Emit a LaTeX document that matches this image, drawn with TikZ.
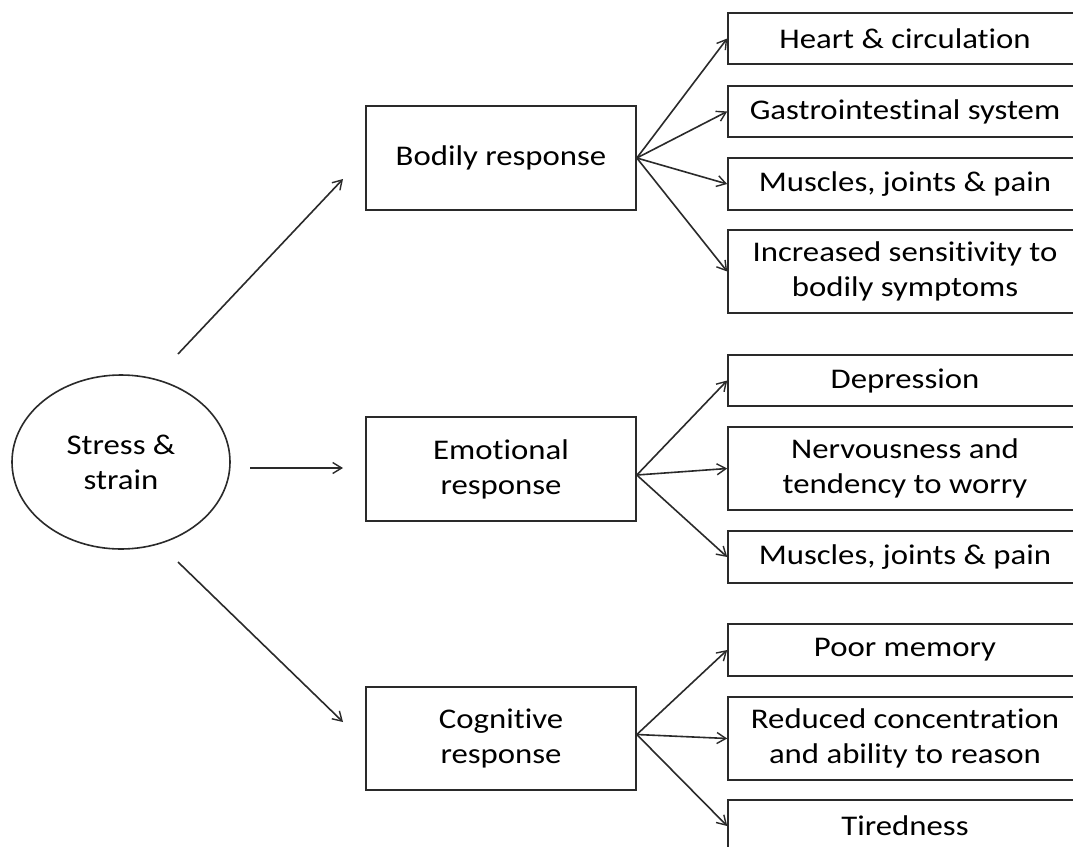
\documentclass[tikz,border=0pt]{standalone}
\usepackage{fontspec}
\setmainfont{Carlito}[FakeStretch=1.15, Ligatures={NoCommon}]
\usetikzlibrary{arrows.meta,shapes.geometric}
\definecolor{edge}{HTML}{2A2A2A}
\tikzset{
  base/.style={draw=edge, line width=1.6pt, text=black, inner sep=0pt, align=center,
    font=\fontsize{28.5}{35}\selectfont},
  respbox/.style={base, rectangle, minimum width=270pt},
  itembox/.style={base, rectangle, minimum width=354pt},
  link/.style={draw=edge, line width=1.6pt, -{Straight Barb[length=9pt,width=11pt,line width=1.4pt]}}
}
\begin{document}
\begin{tikzpicture}[x=1pt,y=-1pt]
\useasboundingbox (0,0) rectangle (1073,846);
\clip (0,0) rectangle (1073,846);
\fill[white] (0,0) rectangle (1073,846);

% source
\node[base, ellipse, minimum width=218pt, minimum height=174pt] (src) at (121,462) {Stress \&\\strain};

% three kinds of response
\node[respbox, minimum height=104pt] (bod) at (501,158) {Bodily response};
\node[respbox, minimum height=104pt] (emo) at (501,469) {Emotional\\response};
\node[respbox, minimum height=103pt] (cog) at (501,738.5) {Cognitive\\response};

% bodily effects
\node[itembox, minimum height=51pt] (heart) at (905,38.5) {Heart \& circulation};
\node[itembox, minimum height=51pt] (gastro) at (905,111.5) {Gastrointestinal system};
\node[itembox, minimum height=52pt] (musA) at (905,184) {Muscles, joints \& pain};
\node[itembox, minimum height=83pt] (sens) at (905,271.5) {Increased sensitivity to\\bodily symptoms};

% emotional effects
\node[itembox, minimum height=51pt] (dep) at (905,380.5) {Depression};
\node[itembox, minimum height=83pt] (nerv) at (905,468.5) {Nervousness and\\tendency to worry};
\node[itembox, minimum height=52pt] (musB) at (905,557) {Muscles, joints \& pain};

% cognitive effects
\node[itembox, minimum height=52pt] (mem) at (905,650) {Poor memory};
\node[itembox, minimum height=83pt] (conc) at (905,738.5) {Reduced concentration\\and ability to reason};
\node[itembox, minimum height=52pt] (tired) at (905,826) {Tiredness};

% free-standing arrows from the source
\coordinate (s1) at (178,354);
\coordinate (e1) at (343,179);
\coordinate (s2) at (250,468);
\coordinate (e2) at (343,468);
\coordinate (s3) at (178,562);
\coordinate (e3) at (343,722);
\draw[link] (s1) -- (e1);
\draw[link] (s2) -- (e2);
\draw[link] (s3) -- (e3);

% fan-out to the effects
\foreach \t in {heart,gastro,musA,sens} \draw[link] (bod.east) -- (\t.west);
\foreach \t in {dep,nerv,musB} \draw[link] ([yshift=-6pt]emo.east) -- (\t.west);
\foreach \t in {mem,conc,tired} \draw[link] ([yshift=4pt]cog.east) -- (\t.west);
\end{tikzpicture}
\end{document}
